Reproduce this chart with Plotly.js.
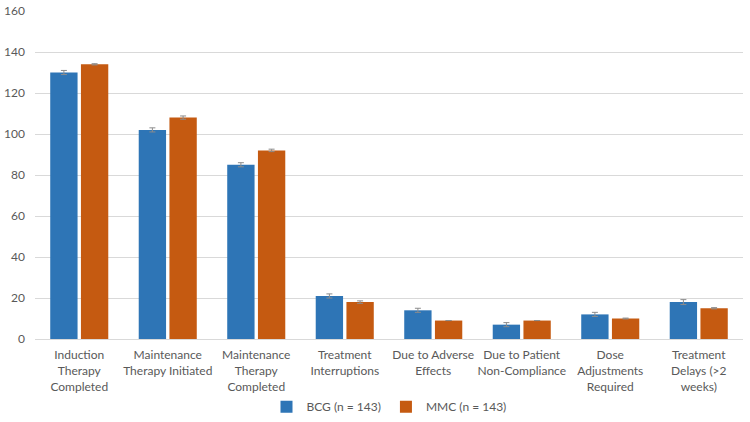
<!DOCTYPE html>
<html>
<head>
<meta charset="utf-8">
<script src="https://cdn.plot.ly/plotly-3.0.1.min.js"></script>
<style>
  html, body { margin: 0; padding: 0; background: #fff; }
  #chart { width: 750px; height: 422px; }
</style>
</head>
<body>
<div id="chart"></div>
<script>
var categories = [
  'Induction<br>Therapy<br>Completed',
  'Maintenance<br>Therapy Initiated',
  'Maintenance<br>Therapy<br>Completed',
  'Treatment<br>Interruptions',
  'Due to Adverse<br>Effects',
  'Due to Patient<br>Non-Compliance',
  'Dose<br>Adjustments<br>Required',
  'Treatment<br>Delays (>2<br>weeks)'
];
var bcgValues = [130, 102, 85, 21, 14, 7, 12, 18];
var mmcValues = [134, 108, 92, 18, 9, 9, 10, 15];
var bcgErrors = [1, 1, 1, 1, 1, 1, 1, 1.2];
var mmcErrors = [0.3, 0.8, 0.6, 0.6, 0, 0, 0.2, 0.3];
var yTicks = [0, 20, 40, 60, 80, 100, 120, 140, 160];

var bcg = {
  x: categories,
  y: bcgValues,
  name: 'BCG (n = 143)',
  type: 'bar',
  marker: { color: '#2E75B6' },
  error_y: { type: 'data', array: bcgErrors, visible: true, color: '#8c8c8c', thickness: 1, width: 3 }
};

var mmc = {
  x: categories,
  y: mmcValues,
  name: 'MMC (n = 143)',
  type: 'bar',
  marker: { color: '#C55A11' },
  error_y: { type: 'data', array: mmcErrors, visible: true, color: '#8c8c8c', thickness: 1, width: 3 }
};

var layout = {
  width: 750,
  height: 422,
  margin: { l: 35, r: 7, t: 11, b: 83 },
  paper_bgcolor: '#ffffff',
  plot_bgcolor: '#ffffff',
  font: { family: 'Lato, "Liberation Sans", sans-serif', size: 12, color: '#595959' },
  barmode: 'group',
  bargap: 0.306,
  bargroupgap: 0.11,
  showlegend: true,
  legend: {
    orientation: 'h',
    x: 0.5, xanchor: 'center',
    yref: 'container',
    y: 0.036, yanchor: 'middle',
    bgcolor: 'rgba(0,0,0,0)',
    font: { size: 12, color: '#595959' },
    itemwidth: 30,
    traceorder: 'normal'
  },
  xaxis: {
    automargin: false,
    showline: true,
    linecolor: '#d9d9d9',
    linewidth: 1,
    ticks: '',
    ticklabelstandoff: 5,
    tickfont: { size: 12, color: '#595959' }
  },
  yaxis: {
    automargin: false,
    range: [0, 160],
    tickvals: yTicks,
    showgrid: true,
    gridcolor: '#d9d9d9',
    gridwidth: 1,
    zeroline: false,
    showline: false,
    ticks: '',
    ticklabelstandoff: 9,
    tickfont: { size: 12, color: '#595959' }
  }
};

Plotly.newPlot('chart', [bcg, mmc], layout, { displayModeBar: false, staticPlot: true });
</script>
</body>
</html>
